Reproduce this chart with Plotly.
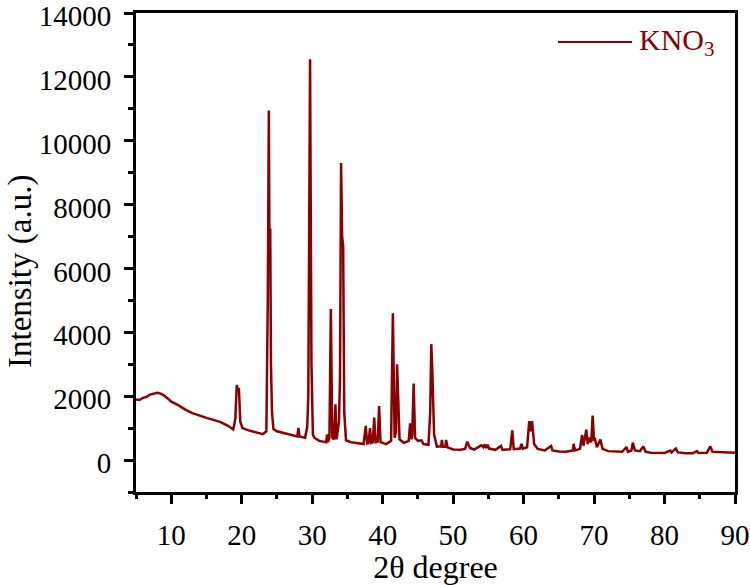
import plotly.graph_objects as go

two_theta = [5, 5.5, 6, 6.5, 7, 7.5, 8, 8.5, 9, 9.5, 10, 11, 12, 13, 14, 15, 16, 17, 18, 18.8,
             19.1, 19.3, 19.45, 19.6, 19.8, 20.1, 21, 22, 23, 23.5, 23.7, 23.85, 23.95, 24.05, 24.15,
             24.3, 24.5, 25, 26, 27, 27.9, 28.05, 28.2, 29, 29.3, 29.45, 29.7, 29.9, 30.1, 30.3,
             31, 32, 32.1, 32.25, 32.45, 32.65, 32.85, 33.1, 33.3, 33.45, 33.8, 33.95, 34.1, 34.25,
             34.4, 34.55, 34.8, 35.5, 36.5, 37.3, 37.6, 37.8, 38.0, 38.2, 38.4, 38.6, 38.8, 39.0,
             39.3, 39.5, 39.7, 40.5, 41.2, 41.45, 41.7, 41.9, 42.05, 42.2, 42.4, 43.0, 43.7, 43.9,
             44.1, 44.2, 44.4, 44.6, 45, 45.5, 45.8, 46.5, 46.75, 46.9, 47.05, 47.3, 47.7, 48.3,
             48.4, 48.55, 48.9, 49.0, 49.2, 50, 51, 51.7, 52.0, 52.4, 53, 54.0, 54.3, 54.5, 54.7,
             54.9, 55.1, 56, 56.8, 57, 58.1, 58.4, 58.6, 59.5, 59.7, 59.9, 60.5, 60.8, 61.0, 61.2,
             61.5, 62, 63, 63.9, 64.1, 65, 66, 67.0, 67.1, 67.3, 68, 68.3, 68.5, 68.9, 69.1, 69.4,
             69.6, 69.8, 70.0, 70.1, 70.4, 70.9, 71.2, 72, 73, 74, 74.6, 74.8, 75.3, 75.5, 75.8,
             76.5, 77.0, 77.3, 78, 79, 80, 80.8, 81.0, 81.6, 81.9, 83, 84, 84.6, 84.8, 86, 86.5,
             86.8, 88, 88.8, 89.5, 90]
intensity = [1900, 1880, 1950, 1980, 2050, 2080, 2110, 2080, 2020, 1930, 1830, 1720, 1580, 1470, 1390, 1320, 1260, 1190, 1080, 960,
             1300, 2350, 2200, 2250, 1200, 1000, 930, 870, 810, 900, 5000, 10950, 6000, 7250, 3000,
             1500, 970, 900, 840, 790, 740, 1010, 740, 700, 1050, 2000, 12550, 3000, 800, 700,
             600, 560, 800, 560, 700, 4730, 700, 650, 1750, 650, 1200, 2600, 9300, 7000,
             6700, 1500, 620, 560, 520, 500, 1070, 520, 530, 1000, 540, 560, 1330, 560,
             580, 1690, 560, 500, 600, 4600, 700, 900, 3000, 1900, 650, 540, 600, 1150,
             650, 800, 2400, 700, 600, 620, 500, 480, 1500, 3630, 2800, 800, 420, 430,
             630, 420, 420, 630, 400, 330, 320, 350, 575, 380, 330, 460, 400, 490, 380,
             480, 360, 320, 440, 320, 340, 930, 340, 360, 510, 360, 400, 1220, 900, 1220,
             500, 350, 300, 440, 300, 270, 260, 300, 510, 300, 350, 785, 450, 950, 500, 700,
             550, 1390, 600, 700, 400, 640, 350, 280, 260, 260, 410, 260, 300, 545, 300,
             280, 430, 260, 230, 220, 220, 300, 240, 360, 240, 210, 210, 280, 220, 230, 430,
             260, 240, 250, 230, 230]

series_name = "KNO<sub>3</sub>"
x_ticks = [10, 20, 30, 40, 50, 60, 70, 80, 90]
y_ticks = [0, 2000, 4000, 6000, 8000, 10000, 12000, 14000]

color = "#8B0000"
font = "Liberation Serif"

fig = go.Figure()
fig.add_trace(go.Scatter(x=two_theta, y=intensity, mode="lines", name=series_name,
                         line=dict(color=color, width=2.5), showlegend=False))

axis_common = dict(showline=True, linecolor="black", linewidth=3, mirror=True,
                   ticks="outside", ticklen=9, tickwidth=3, tickcolor="black",
                   showgrid=False, zeroline=False, automargin=False,
                   ticklabeloverflow="allow",
                   tickfont=dict(family=font, size=29, color="black"))

fig.update_xaxes(range=[5, 90], tickvals=x_ticks, ticktext=[str(v) for v in x_ticks],
                 ticklabelstandoff=6,
                 minor=dict(dtick=5, tick0=5, ticks="outside", ticklen=4, tickwidth=3, tickcolor="black"),
                 title=dict(text="2θ degree", font=dict(family=font, size=32, color="black"), standoff=8),
                 **axis_common)
fig.update_yaxes(range=[-1000, 14000], tickvals=y_ticks, ticktext=[str(v) for v in y_ticks],
                 ticklabelstandoff=7, ticklabelshift=3,
                 minor=dict(dtick=1000, tick0=0, ticks="outside", ticklen=5, tickwidth=3, tickcolor="black"),
                 **axis_common)

# y-axis title
fig.add_annotation(text="Intensity (a.u.)", xref="paper", yref="paper",
                   x=-0.194, y=0.461, xanchor="center", yanchor="middle", textangle=-90,
                   showarrow=False, font=dict(family=font, size=33, color="black"))

# legend drawn as sample line + label
fig.add_shape(type="line", xref="paper", yref="paper",
              x0=(558 - 136) / 599, x1=(632 - 136) / 599,
              y0=(492 - 42) / 479, y1=(492 - 42) / 479,
              line=dict(color=color, width=2))
fig.add_annotation(text=series_name, xref="paper", yref="paper",
                   x=(637 - 136) / 599, y=(492 - 42) / 479, xanchor="left", yanchor="middle",
                   showarrow=False, font=dict(family=font, size=30, color=color))

fig.update_layout(width=750, height=585, margin=dict(l=136, r=15, t=13, b=93),
                  paper_bgcolor="white", plot_bgcolor="white", showlegend=False)

fig.write_html("out.html", config={"displayModeBar": False},
               post_script="document.body.style.margin='0px';")
